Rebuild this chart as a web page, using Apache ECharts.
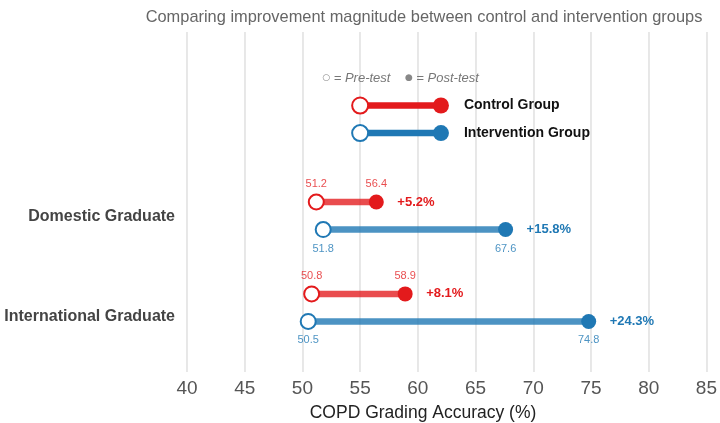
<!DOCTYPE html>
<html>
<head>
<meta charset="utf-8">
<script src="https://cdn.jsdelivr.net/npm/echarts@6/dist/echarts.min.js"></script>
<style>html,body{margin:0;padding:0;background:#fff}#main{width:720px;height:423px}</style>
</head>
<body>
<div id="main"></div>
<script>
// ---- data ----
const categories = ['Domestic Graduate', 'International Graduate'];
const groups = ['Control Group', 'Intervention Group'];
const controlPre = [51.2, 50.8];
const controlPost = [56.4, 58.9];
const interventionPre = [51.8, 50.5];
const interventionPost = [67.6, 74.8];
const xMin = 40, xMax = 85, xStep = 5;
const titleText = 'Comparing improvement magnitude between control and intervention groups';
const xAxisTitle = 'COPD Grading Accuracy (%)';

// ---- style ----
const RED = '#e31a1c', BLUE = '#1f78b4';
const RED_SOFT = 'rgba(227,26,28,0.78)', BLUE_SOFT = 'rgba(31,120,180,0.8)';
const FONT = '"Liberation Sans", Arial, Helvetica, sans-serif';
const groupOffset = [-0.15, 0.15];   // vertical offsets within a category
const labelShift = [0.01, 1.1];      // category label positions on the y scale
const legendRange = [55, 62];
const legendRows = [-1.2, -0.9];
const legendNoteRow = -1.5;

function buildRows(pre, post, gi) {
  return categories.map((c, i) => [pre[i], post[i], i + groupOffset[gi], gi]);
}

function dumbbell(params, api) {
  const pre = api.value(0), post = api.value(1), y = api.value(2), gi = api.value(3);
  const p0 = api.coord([pre, y]), p1 = api.coord([post, y]);
  const col = gi === 0 ? RED : BLUE;
  const soft = gi === 0 ? RED_SOFT : BLUE_SOFT;
  const above = gi === 0;
  const diff = '+' + (post - pre).toFixed(1) + '%';
  const labelY = above ? -18 : 19;
  return {
    type: 'group',
    children: [
      { type: 'line', shape: { x1: p0[0], y1: p0[1], x2: p1[0], y2: p1[1] },
        style: { stroke: soft, lineWidth: 6.5 } },
      { type: 'circle', shape: { cx: p1[0], cy: p1[1], r: 7.5 }, style: { fill: col } },
      { type: 'circle', shape: { cx: p0[0], cy: p0[1], r: 7.5 },
        style: { fill: '#fff', stroke: col, lineWidth: 2 } },
      { type: 'text', x: p0[0], y: p0[1] + labelY,
        style: { text: pre.toFixed(1), fill: soft, font: '11px ' + FONT, align: 'center', verticalAlign: 'middle' } },
      { type: 'text', x: p1[0], y: p1[1] + labelY,
        style: { text: post.toFixed(1), fill: soft, font: '11px ' + FONT, align: 'center', verticalAlign: 'middle' } },
      { type: 'text', x: p1[0] + 21, y: p1[1],
        style: { text: diff, fill: col, font: 'bold 13px ' + FONT, align: 'left', verticalAlign: 'middle' } }
    ]
  };
}

function legendItem(params, api) {
  const gi = api.value(0);
  const y = legendRows[gi];
  const p0 = api.coord([legendRange[0], y]), p1 = api.coord([legendRange[1], y]);
  const col = gi === 0 ? RED : BLUE;
  const children = [
    { type: 'line', shape: { x1: p0[0], y1: p0[1], x2: p1[0], y2: p1[1] }, style: { stroke: col, lineWidth: 6.5 } },
    { type: 'circle', shape: { cx: p1[0], cy: p1[1], r: 8 }, style: { fill: col } },
    { type: 'circle', shape: { cx: p0[0], cy: p0[1], r: 8 }, style: { fill: '#fff', stroke: col, lineWidth: 2 } },
    { type: 'text', x: p1[0] + 23, y: p1[1],
      style: { text: groups[gi], fill: '#111', font: 'bold 14px ' + FONT, align: 'left', verticalAlign: 'middle' } }
  ];
  if (gi === 0) {
    const pc = api.coord([(legendRange[0] + legendRange[1]) / 2, legendNoteRow]);
    children.push({ type: 'text', x: pc[0], y: pc[1],
      style: {
        text: '{s|○} = Pre-test    {s|●} = Post-test',
        rich: { s: { fontSize: 9, fill: '#888', fontFamily: 'DejaVu Sans' } },
        fill: '#777', font: 'italic 13px ' + FONT, align: 'center', verticalAlign: 'middle'
      } });
  }
  return { type: 'group', children };
}

const chart = echarts.init(document.getElementById('main'), null, { renderer: 'canvas' });
chart.setOption({
  backgroundColor: '#fff',
  animation: false,
  title: [
    { text: titleText, left: 419, top: 4, textAlign: 'center',
      textStyle: { color: '#666', fontSize: 16.4, fontWeight: 'normal', fontFamily: FONT } },
    { text: xAxisTitle, left: 418, top: 399, textAlign: 'center',
      textStyle: { color: '#222', fontSize: 17.5, fontWeight: 'normal', fontFamily: FONT } }
  ],
  grid: { left: 187, right: 13, top: 32, bottom: 51 },
  xAxis: {
    type: 'value', min: xMin, max: xMax, interval: xStep,
    axisLine: { show: false }, axisTick: { show: false },
    axisLabel: { fontSize: 19, color: '#555', margin: 7, fontFamily: FONT },
    splitLine: { show: true, lineStyle: { color: '#e2e2e2', width: 1.6 } }
  },
  yAxis: {
    type: 'value', min: -2, max: 1.7, inverse: true,
    axisLine: { show: false }, axisTick: { show: false }, splitLine: { show: false },
    axisLabel: {
      customValues: labelShift,
      formatter: v => categories[Math.round(v)] || '',
      fontSize: 16, fontWeight: 'bold', color: '#444', margin: 12, fontFamily: FONT
    }
  },
  series: [
    { type: 'custom', name: groups[0], renderItem: dumbbell, data: buildRows(controlPre, controlPost, 0), z: 3 },
    { type: 'custom', name: groups[1], renderItem: dumbbell, data: buildRows(interventionPre, interventionPost, 1), z: 3 },
    { type: 'custom', name: 'legend', renderItem: legendItem, data: [[0], [1]], z: 4, silent: true }
  ]
});
</script>
</body>
</html>
